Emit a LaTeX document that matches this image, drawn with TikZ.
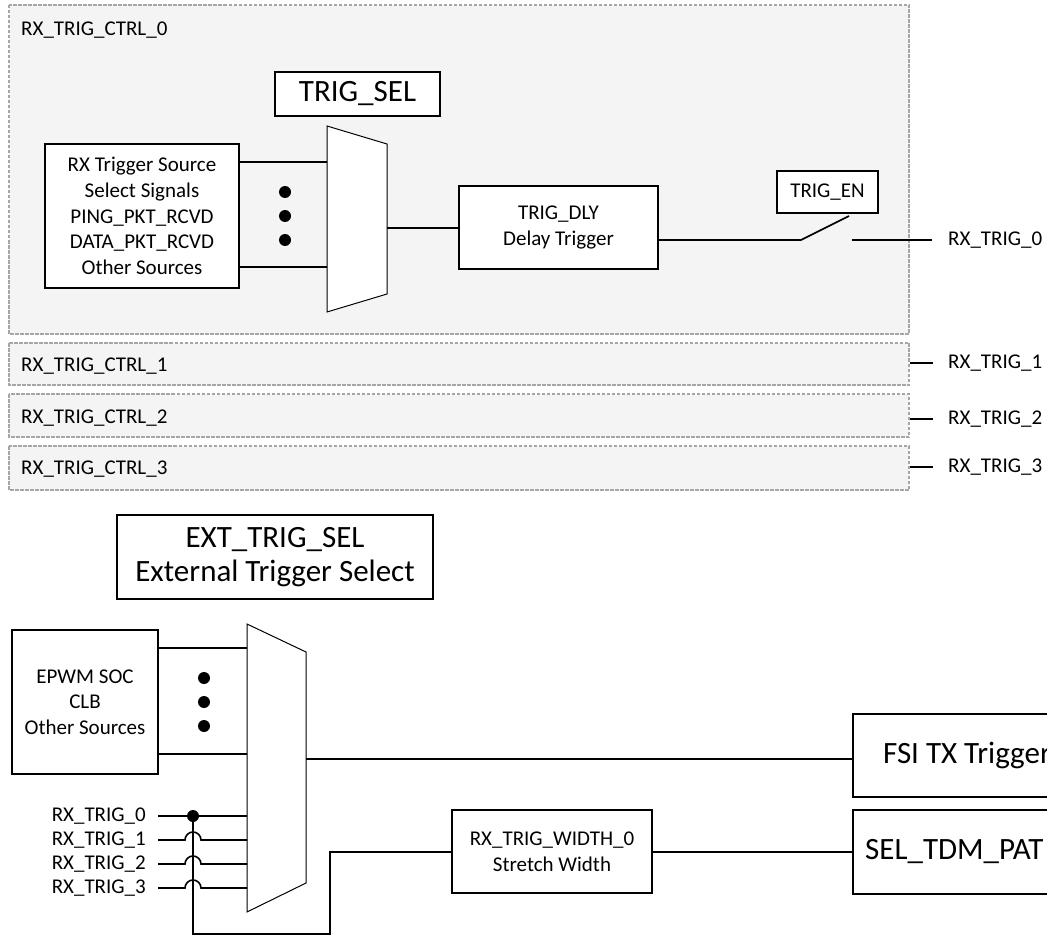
\documentclass[tikz,border=0pt]{standalone}
\usepackage{fontspec}
\setmainfont{Carlito}
\definecolor{dashgray}{HTML}{A6A6A6}
\definecolor{ctrlfill}{HTML}{F4F4F4}
\begin{document}
\begin{tikzpicture}[x=1pt,y=-1pt,
  sm/.style={font=\fontsize{21}{25.6}\selectfont},
  bg/.style={font=\fontsize{31}{34}\selectfont},
  blk/.style={draw,line width=1.8pt,fill=white,inner sep=0pt,align=center},
  lbl/.style={inner sep=0pt},
  wire/.style={line width=1.6pt},
  mux/.style={draw,line width=1pt,fill=white},
  ctrl/.style={draw=dashgray,fill=ctrlfill,line width=1.5pt,dash pattern=on 3.5pt off 1.5pt}]
\useasboundingbox (0,0) rectangle (1047,936);
\clip (0,0) rectangle (1047,936);

% control blocks
\draw[ctrl] (9,5) rectangle (909,334);
\draw[ctrl] (9,343) rectangle (909,385);
\draw[ctrl] (9,394) rectangle (909,437);
\draw[ctrl] (9,446) rectangle (909,490);
\node[sm,lbl,anchor=west] (c0) at (21,30) {RX\_TRIG\_CTRL\_0};
\node[sm,lbl,anchor=west] (c1) at (21,366) {RX\_TRIG\_CTRL\_1};
\node[sm,lbl,anchor=west] (c2) at (21,418) {RX\_TRIG\_CTRL\_2};
\node[sm,lbl,anchor=west] (c3) at (21,469) {RX\_TRIG\_CTRL\_3};

% top section
\node[blk,sm,minimum width=194pt,minimum height=144pt] (src) at (142,216)
  {RX Trigger Source\\Select Signals\\PING\_PKT\_RCVD\\DATA\_PKT\_RCVD\\Other Sources};
\draw[mux] (327,126) -- (387,144) -- (387,294) -- (327,312) -- cycle;
\coordinate (m1a) at (327,162);
\coordinate (m1b) at (327,267);
\coordinate (m1o) at (387,228);
\draw[wire] (src.east |- m1a) -- (m1a);
\draw[wire] (src.east |- m1b) -- (m1b);
\fill (285,192) circle (6pt);
\fill (285,216) circle (6pt);
\fill (285,240) circle (6pt);
\node[blk,bg,minimum width=165pt,minimum height=44pt] (tsel) at (357.5,94) {TRIG\_SEL};
\node[blk,sm,minimum width=199pt,minimum height=83pt] (dly) at (558.5,227.5) {TRIG\_DLY\\Delay Trigger};
\draw[wire] (m1o) -- (dly.west |- m1o);
\node[blk,sm,minimum width=101pt,minimum height=42pt] (ten) at (827.5,192) {TRIG\_EN};
\coordinate (sw1) at (801,240);
\coordinate (sw2) at (849,216);
\coordinate (sw3) at (852,240);
\draw[wire] (dly.east |- sw1) -- (sw1) -- (sw2);
\node[sm,lbl,anchor=west] (o0) at (948,240) {RX\_TRIG\_0};
\draw[wire] (sw3) -- ([xshift=-16pt]o0.west);
\node[sm,lbl,anchor=west] (o1) at (948,363) {RX\_TRIG\_1};
\node[sm,lbl,anchor=west] (o2) at (948,419) {RX\_TRIG\_2};
\node[sm,lbl,anchor=west] (o3) at (948,467) {RX\_TRIG\_3};
\draw[wire] ([xshift=-38pt]o1.west) -- ([xshift=-15pt]o1.west);
\draw[wire] ([xshift=-38pt]o2.west) -- ([xshift=-15pt]o2.west);
\draw[wire] ([xshift=-38pt]o3.west) -- ([xshift=-15pt]o3.west);

% bottom section
\node[blk,bg,minimum width=316pt,minimum height=84pt] (ext) at (275,557) {EXT\_TRIG\_SEL\\External Trigger Select};
\node[blk,sm,minimum width=146pt,minimum height=144pt] (epwm) at (85,702) {EPWM SOC\\CLB\\Other Sources};
\draw[mux] (247,624) -- (306,652) -- (306,883) -- (247,912) -- cycle;
\coordinate (m2a) at (247,648);
\coordinate (m2b) at (247,754);
\coordinate (m2o) at (306,759);
\draw[wire] (epwm.east |- m2a) -- (m2a);
\draw[wire] (epwm.east |- m2b) -- (m2b);
\fill (204,678) circle (6pt);
\fill (204,702) circle (6pt);
\fill (204,726) circle (6pt);

\node[draw,line width=1.8pt,fill=white,anchor=west,minimum width=240pt,minimum height=83pt,inner sep=0pt] (fsi) at (852,755.5) {};
\node[bg,lbl,anchor=west] (fsit) at (883,755.5) {FSI TX Trigger};
\draw[wire] (m2o) -- (fsi.west |- m2o);

\node[sm,lbl,anchor=east] (i0) at (146,816) {RX\_TRIG\_0};
\node[sm,lbl,anchor=east] (i1) at (146,840) {RX\_TRIG\_1};
\node[sm,lbl,anchor=east] (i2) at (146,864) {RX\_TRIG\_2};
\node[sm,lbl,anchor=east] (i3) at (146,888) {RX\_TRIG\_3};
\coordinate (m2i0) at (247,816);
\coordinate (m2i1) at (247,840);
\coordinate (m2i2) at (247,864);
\coordinate (m2i3) at (247,888);
\coordinate (h1) at (185,840);
\coordinate (h2) at (185,864);
\coordinate (h3) at (185,888);
\coordinate (j) at (193,816);
\draw[wire] ([xshift=12pt]i0.east |- m2i0) -- (m2i0);
\draw[wire] ([xshift=12pt]i1.east |- m2i1) -- (h1) arc[start angle=180,end angle=0,radius=8pt] -- (m2i1);
\draw[wire] ([xshift=12pt]i2.east |- m2i2) -- (h2) arc[start angle=180,end angle=0,radius=8pt] -- (m2i2);
\draw[wire] ([xshift=12pt]i3.east |- m2i3) -- (h3) arc[start angle=180,end angle=0,radius=8pt] -- (m2i3);
\fill (j) circle (6pt);

\node[blk,sm,minimum width=200pt,minimum height=83pt] (wid) at (552,851.5) {RX\_TRIG\_WIDTH\_0\\Stretch Width};
\coordinate (b1) at (193,934);
\coordinate (b2) at (330,934);
\coordinate (b3) at (330,852);
\draw[wire] (j) -- (b1) -- (b2) -- (b3) -- (wid.west |- b3);
\node[draw,line width=1.8pt,fill=white,anchor=west,minimum width=240pt,minimum height=84pt,inner sep=0pt] (tdm) at (852,852) {};
\node[bg,lbl,anchor=west] (tdmt) at (865,852) {SEL\_TDM\_PAT};
\draw[wire] (wid.east |- b3) -- (tdm.west |- b3);
\end{tikzpicture}
\end{document}
